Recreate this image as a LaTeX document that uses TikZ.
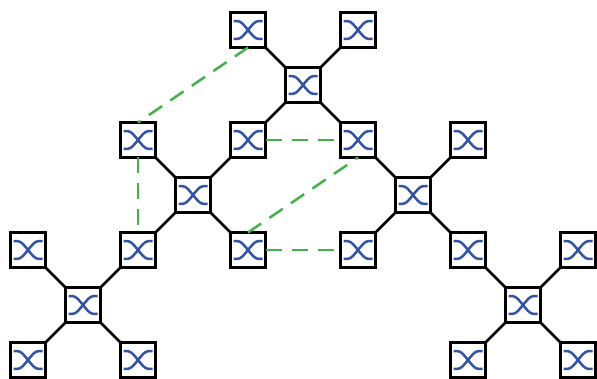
\documentclass[tikz,border=0pt]{standalone}
\usetikzlibrary{calc}
\definecolor{glyphblue}{RGB}{51,83,165}
\definecolor{linkgreen}{RGB}{70,176,76}
\tikzset{
  xglyph/.style={draw=glyphblue, line width=2.5pt},
  sw/.style={draw=black, line width=2.8pt, fill=white, minimum size=35pt, inner sep=0pt, outer sep=0pt},
  wire/.style={draw=black, line width=2.7pt},
  link/.style={draw=linkgreen, line width=2.5pt, dash pattern=on 16pt off 10pt}
}
\begin{document}
\begin{tikzpicture}[x=1pt, y=-1pt]
\useasboundingbox[fill=white] (0,0) rectangle (597,379);
% leaves
\node[sw] (a) at (248,30) {};
\node[sw] (b) at (358,30) {};
\node[sw] (c) at (138,140) {};
\node[sw] (d) at (248,140) {};
\node[sw] (e) at (358,140) {};
\node[sw] (f) at (468,140) {};
\node[sw] (g) at (28,250) {};
\node[sw] (hh) at (138,250) {};
\node[sw] (i) at (248,250) {};
\node[sw] (j) at (358,250) {};
\node[sw] (k) at (468,250) {};
\node[sw] (l) at (578,250) {};
\node[sw] (m) at (28,360) {};
\node[sw] (n) at (138,360) {};
\node[sw] (o) at (468,360) {};
\node[sw] (p) at (578,360) {};
% hubs
\node[sw] (h1) at (303,85) {};
\node[sw] (h2) at (193,195) {};
\node[sw] (h3) at (83,305) {};
\node[sw] (h4) at (413,195) {};
\node[sw] (h5) at (523,305) {};
% cross-connect glyphs
\foreach \s in {a,b,c,d,e,f,g,hh,i,j,k,l,m,n,o,p,h1,h2,h3,h4,h5}{
  \begin{scope}[shift={(\s.center)}]
    \draw[xglyph] (-14.5,-8.8) -- (-10,-8.8) .. controls (-4,-8.8) and (4,8.8) .. (10,8.8) -- (14.5,8.8);
    \draw[xglyph] (-14.5,8.8) -- (-10,8.8) .. controls (-4,8.8) and (4,-8.8) .. (10,-8.8) -- (14.5,-8.8);
  \end{scope}
}
% wires
\foreach \h/\nw/\ne/\sw/\se in {h1/a/b/d/e, h2/c/d/hh/i, h3/g/hh/m/n, h4/e/f/j/k, h5/k/l/o/p}{
  \draw[wire] (\h.north west) -- (\nw.south east);
  \draw[wire] (\h.north east) -- (\ne.south west);
  \draw[wire] (\h.south west) -- (\sw.north east);
  \draw[wire] (\h.south east) -- (\se.north west);
}
% green dashed links
\draw[link] (a.south) -- (c.north);
\draw[link] (c.south) -- (hh.north);
\draw[link] (d.east) -- (e.west);
\draw[link] (i.north) -- (e.south);
\draw[link] (i.east) -- (j.west);
\end{tikzpicture}
\end{document}
